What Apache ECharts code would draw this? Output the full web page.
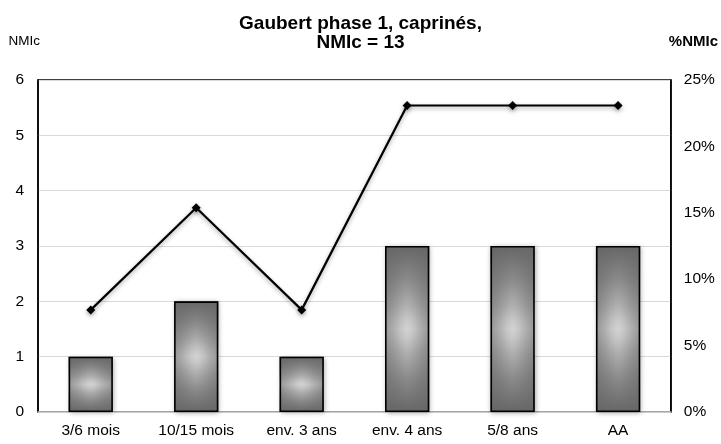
<!DOCTYPE html>
<html><head><meta charset="utf-8">
<script src="https://cdn.jsdelivr.net/npm/echarts@6/dist/echarts.min.js"></script>
<style>html,body{margin:0;padding:0;background:#fff}#c{width:721px;height:444px}</style>
</head><body><div id="c"></div>
<script>
const categories = ['3/6 mois','10/15 mois','env. 3 ans','env. 4 ans','5/8 ans','AA'];
const nmic = [1, 2, 1, 3, 3, 3];
const pctNmic = [7.69, 15.38, 7.69, 23.08, 23.08, 23.08];
const leftTicks = {min:0, max:6, interval:1};
const rightTicks = {min:0, max:25, interval:5};

const chart = echarts.init(document.getElementById('c'));
const font = 'Liberation Sans, Arial, sans-serif';
const vStops = [
  {offset:0, color:'#666666'}, {offset:0.2, color:'#8a8a8a'}, {offset:0.35, color:'#adadad'},
  {offset:0.45, color:'#c9c9c9'}, {offset:0.5, color:'#d2d2d2'}, {offset:0.55, color:'#c9c9c9'},
  {offset:0.65, color:'#adadad'}, {offset:0.8, color:'#8a8a8a'}, {offset:1, color:'#666666'}];
const hStops = [
  {offset:0, color:'rgba(102,102,102,0.55)'}, {offset:0.2, color:'rgba(102,102,102,0.32)'},
  {offset:0.35, color:'rgba(102,102,102,0.12)'}, {offset:0.45, color:'rgba(102,102,102,0.02)'},
  {offset:0.5, color:'rgba(102,102,102,0)'}, {offset:0.55, color:'rgba(102,102,102,0.02)'},
  {offset:0.65, color:'rgba(102,102,102,0.12)'}, {offset:0.8, color:'rgba(102,102,102,0.32)'},
  {offset:1, color:'rgba(102,102,102,0.55)'}];
chart.setOption({
  animation:false,
  backgroundColor:'#fff',
  title:{text:'Gaubert phase 1, caprinés,\nNMIc = 13', left:'center', top:9,
    textStyle:{fontFamily:font, fontSize:19, fontWeight:'bold', color:'#000', lineHeight:19}},
  grid:{left:38, right:48, top:80, bottom:32, show:true, borderColor:'#000', borderWidth:1.5},
  xAxis:{type:'category', data:categories,
    axisLine:{lineStyle:{color:'#c8c8c8', width:1.5}}, axisTick:{show:false},
    axisLabel:{fontFamily:font, fontSize:15.5, color:'#000', margin:11}},
  yAxis:[
    {type:'value', min:leftTicks.min, max:leftTicks.max, interval:leftTicks.interval,
     name:'NMIc', nameLocation:'end', nameGap:32,
     nameTextStyle:{fontFamily:font, fontSize:13.5, color:'#000', align:'right', padding:[0,-2,0,0]},
     axisLine:{show:true, lineStyle:{color:'#000', width:1.5}}, axisTick:{show:false},
     axisLabel:{fontFamily:font, fontSize:15.5, color:'#000', margin:14},
     splitLine:{lineStyle:{color:'#d9d9d9', width:1.2}}},
    {type:'value', min:rightTicks.min, max:rightTicks.max, interval:rightTicks.interval,
     name:'%NMIc', nameLocation:'end', nameGap:31,
     nameTextStyle:{fontFamily:font, fontSize:15, fontWeight:'bold', color:'#000', align:'left', padding:[0,0,0,-2]},
     axisLine:{show:true, lineStyle:{color:'#000', width:1.5}}, axisTick:{show:false},
     axisLabel:{fontFamily:font, fontSize:15.5, color:'#000', margin:13, formatter:'{value}%'},
     splitLine:{show:false}}
  ],
  series:[
    {type:'bar', data:nmic, yAxisIndex:0, barWidth:'42%', silent:true,
     itemStyle:{
       color:{type:'linear', x:0, y:0, x2:0, y2:1, colorStops:vStops},
       shadowBlur:5, shadowColor:'rgba(0,0,0,0.35)', shadowOffsetX:1, shadowOffsetY:1}},
    {type:'bar', data:nmic, yAxisIndex:0, barWidth:'42%', barGap:'-100%', silent:true,
     itemStyle:{
       color:{type:'linear', x:0, y:0, x2:1, y2:0, colorStops:hStops},
       borderColor:'#000', borderWidth:1.6}},
    {type:'line', data:pctNmic, yAxisIndex:1, symbol:'diamond', symbolSize:9,
     lineStyle:{color:'#000', width:2.2, shadowBlur:4, shadowColor:'rgba(0,0,0,0.35)', shadowOffsetY:2},
     itemStyle:{color:'#000', shadowBlur:4, shadowColor:'rgba(0,0,0,0.35)', shadowOffsetY:2}}
  ]
});
</script></body></html>
